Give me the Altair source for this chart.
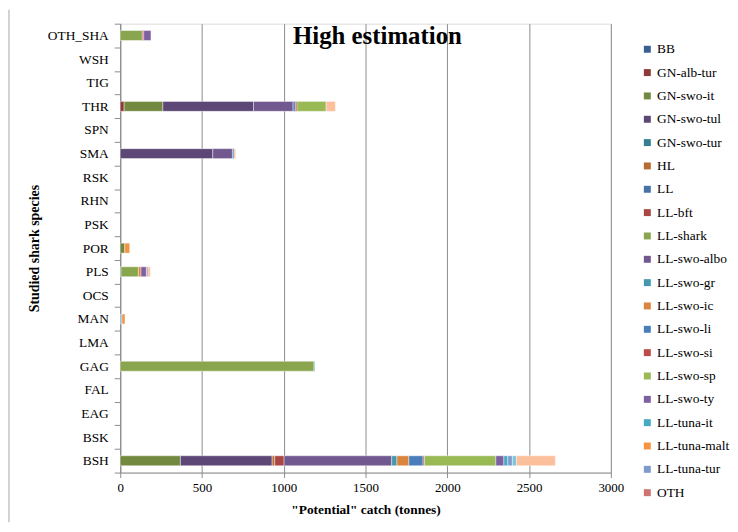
import altair as alt
import pandas as pd

title_text = "High estimation"
x_title = '"Potential" catch (tonnes)'
y_title = "Studied shark species"

species = ["OTH_SHA", "WSH", "TIG", "THR", "SPN", "SMA", "RSK", "RHN", "PSK",
           "POR", "PLS", "OCS", "MAN", "LMA", "GAG", "FAL", "EAG", "BSK", "BSH"]

legend_series = ["BB", "GN-alb-tur", "GN-swo-it", "GN-swo-tul", "GN-swo-tur", "HL",
                 "LL", "LL-bft", "LL-shark", "LL-swo-albo", "LL-swo-gr", "LL-swo-ic",
                 "LL-swo-li", "LL-swo-si", "LL-swo-sp", "LL-swo-ty", "LL-tuna-it",
                 "LL-tuna-malt", "LL-tuna-tur", "OTH"]
# series drawn in the bars but cut off from the visible legend
extra_series = ["series 21", "series 22", "series 23", "series 24"]
all_series = legend_series + extra_series

series_colors = ["#3A6092", "#8E3A38", "#72893F", "#5C4776", "#357F93", "#B66D31",
                 "#4672A8", "#AA4643", "#89A54E", "#71588F", "#4198AF", "#DB843D",
                 "#4A7EBB", "#BE4B48", "#98B954", "#7D60A0", "#46AAC5", "#F69240",
                 "#7E9BCB", "#CD7371", "#AFC97A", "#A28FBC", "#7FC4D8", "#FBC09B"]

# catch (tonnes) per species and series
oth_sha = {"LL-shark": 135, "LL-swo-si": 9, "LL-swo-ty": 44}
thr = {"GN-alb-tur": 24, "GN-swo-it": 237, "GN-swo-tul": 554, "LL-swo-albo": 242,
       "LL-swo-li": 14, "LL-swo-si": 10, "LL-swo-sp": 178, "series 24": 57}
sma = {"GN-swo-tul": 566, "LL-swo-albo": 120, "LL-swo-li": 10, "series 24": 10}
por = {"GN-swo-it": 28, "LL-tuna-malt": 30}
pls = {"GN-swo-tur": 5, "LL-shark": 106, "LL-swo-ic": 16, "LL-swo-ty": 33,
       "series 22": 10, "series 24": 14}
man = {"LL-swo-gr": 6, "LL-swo-li": 5, "LL-tuna-malt": 18}
gag = {"LL-shark": 1185, "LL-tuna-it": 5}
bsh = {"GN-swo-it": 368, "GN-swo-tul": 561, "HL": 16, "LL-bft": 57, "LL-swo-albo": 658,
       "LL-swo-gr": 32, "LL-swo-ic": 73, "LL-swo-li": 87, "LL-swo-si": 8,
       "LL-swo-sp": 437, "LL-swo-ty": 49, "LL-tuna-it": 24, "LL-tuna-tur": 28,
       "series 23": 25, "series 24": 238}

catch_by_species = {"OTH_SHA": oth_sha, "THR": thr, "SMA": sma, "POR": por,
                    "PLS": pls, "MAN": man, "GAG": gag, "BSH": bsh}

rows = []
for sp, vals in catch_by_species.items():
    for s, v in vals.items():
        rows.append({"species": sp, "series": s, "catch": v,
                     "order": all_series.index(s)})
df = pd.DataFrame(rows)

FONT = "Liberation Serif"

bars = alt.Chart(df).mark_bar(size=10, stroke="white", strokeWidth=0.6,
                              strokeOpacity=0.7).encode(
    x=alt.X("sum(catch):Q", title=x_title,
            scale=alt.Scale(domain=[0, 3000], nice=False),
            axis=alt.Axis(values=[0, 500, 1000, 1500, 2000, 2500, 3000], format="d",
                          labelFlush=False,
                          grid=True, gridColor="#8c8c8c", gridWidth=1,
                          domainColor="#8c8c8c", tickColor="#8c8c8c", tickSize=5,
                          labelFont=FONT, labelFontSize=13, labelColor="black",
                          labelPadding=4, titleFont=FONT, titleFontSize=13.5,
                          titleFontWeight="bold", titleColor="black", titlePadding=8)),
    y=alt.Y("species:N", sort=species, title=y_title,
            scale=alt.Scale(domain=species, paddingInner=0, paddingOuter=0),
            axis=alt.Axis(tickBand="extent", domainColor="#8c8c8c", tickColor="#8c8c8c",
                          tickSize=6, labelFont=FONT, labelFontSize=13.5,
                          labelColor="black", labelPadding=6, titleFont=FONT,
                          titleFontSize=14, titleFontWeight="bold", titleColor="black",
                          titlePadding=6)),
    color=alt.Color("series:N",
                    scale=alt.Scale(domain=all_series, range=series_colors),
                    legend=alt.Legend(values=legend_series, title=None, orient="none",
                                      legendX=524, legendY=19, symbolType="square",
                                      symbolSize=49, symbolStrokeWidth=0,
                                      labelFont=FONT, labelFontSize=13.5,
                                      labelColor="black", labelOffset=3,
                                      labelLimit=200,
                                      rowPadding=8.5, padding=0)),
    order=alt.Order("order:Q", sort="ascending"),
)

title_mark = alt.Chart(pd.DataFrame({"t": [title_text]})).mark_text(
    font=FONT, fontSize=25, fontWeight="bold", align="center",
    baseline="alphabetic", color="black").encode(
    x=alt.value(259), y=alt.value(20), text="t:N")

frame_line = alt.Chart(pd.DataFrame({"k": [0]})).mark_rule(
    color="#a6a6a6", strokeWidth=1).encode(
    x=alt.value(-112), y=alt.value(-14), y2=alt.value(502))

chart = alt.layer(bars, title_mark, frame_line).properties(
    width=494, height=452,
    autosize=alt.AutoSizeParams(type="none"),
    padding={"left": 113, "top": 14, "right": 120, "bottom": 50},
).configure_view(stroke=None).configure(background="white")

chart.save("out.html", embed_options={"renderer": "svg", "actions": False})
